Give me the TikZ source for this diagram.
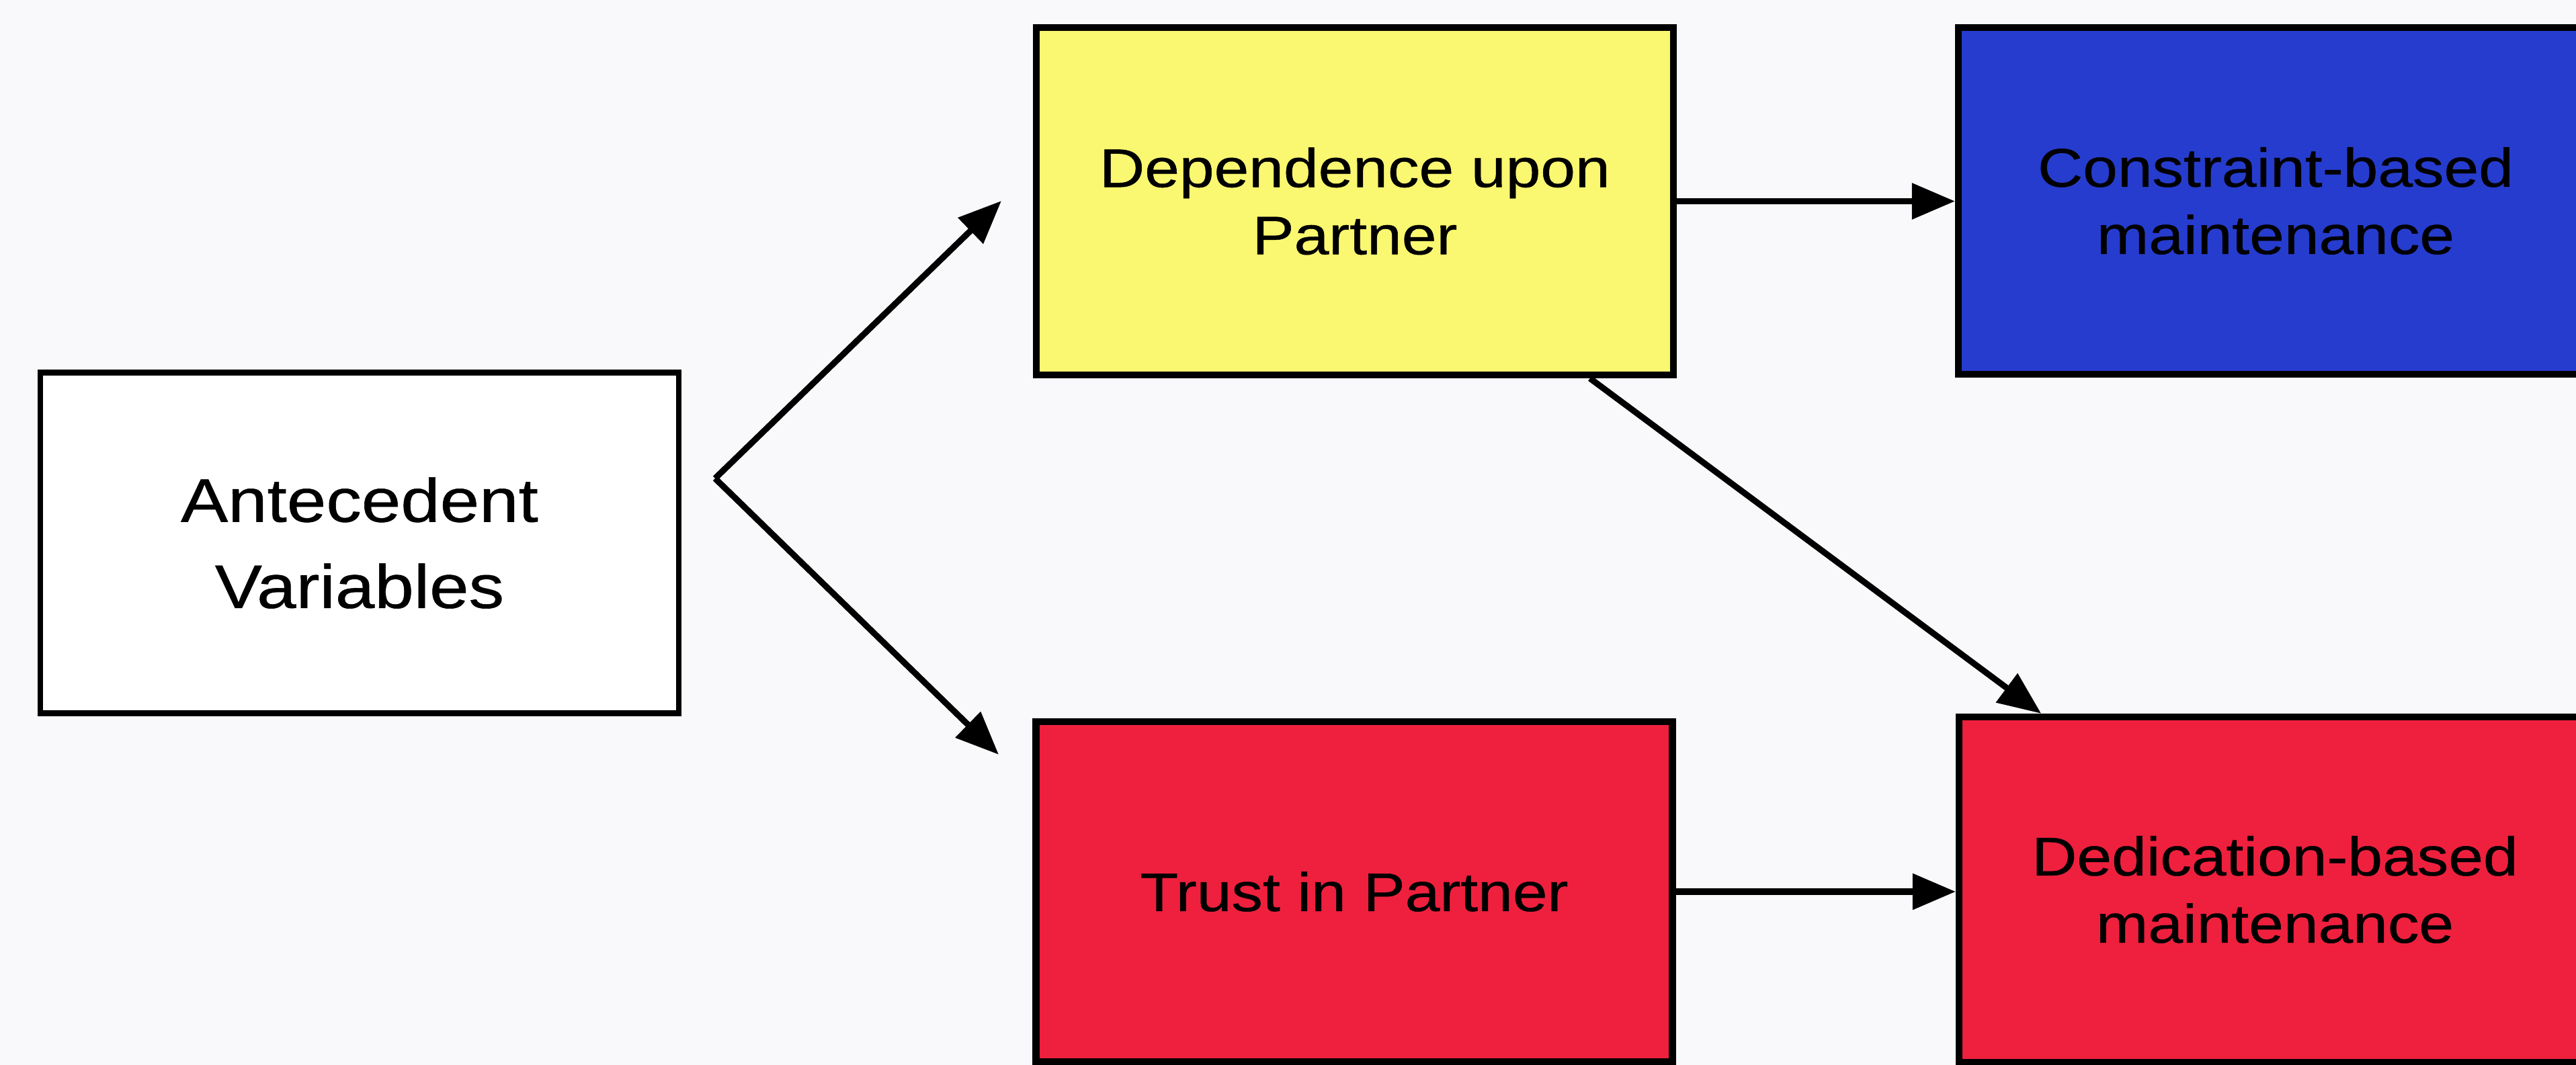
\documentclass[tikz,border=0pt]{standalone}
\usepackage{fontspec}
\setmainfont{Liberation Sans}[FakeStretch=1.15, FakeBold=0.6]
\usepackage{xcolor}
\usepackage{tikz}
\usetikzlibrary{arrows.meta}

\definecolor{depyellow}{RGB}{250,247,112}
\definecolor{conblue}{RGB}{38,60,206}
\definecolor{dedred}{RGB}{238,32,62}
\definecolor{paper}{RGB}{249,249,251}

\begin{document}
\begin{tikzpicture}[
    box/.style={draw=black, line width=2.9pt, inner sep=0pt, align=center,
        font=\fontsize{23}{28.5}\selectfont},
    link/.style={-{Triangle[length=0.64cm, width=0.52cm]}, line width=2.6pt}
  ]
    % Page
    \useasboundingbox (0,0) rectangle (38.33,15.85);
    \fill[paper] (0,0) rectangle (38.33,15.85);

    % Antecedents
    \node[box, line width=2.5pt, fill=white, minimum width=9.5cm, minimum height=5.07cm,
        font=\fontsize{26}{36.5}\selectfont] (ante) at (5.35,7.77) {Antecedent\\Variables};

    % Middle column
    \node[box, fill=depyellow, minimum width=9.48cm, minimum height=5.17cm] (dep) at (20.16,12.855) {Dependence upon\\Partner};
    \node[box, fill=dedred, minimum width=9.47cm, minimum height=5.06cm] (trust) at (20.15,2.58) {Trust in Partner};

    % Right column
    \node[box, fill=conblue, minimum width=9.44cm, minimum height=5.16cm] (con) at (33.86,12.86) {Constraint-based\\maintenance};
    \node[box, fill=dedred, minimum width=9.4cm, minimum height=5.14cm] (ded) at (33.85,2.61) {Dedication-based\\maintenance};

    % Fork from the antecedents
    \coordinate (fork) at (10.64,8.73);
    \coordinate (upTip) at (14.90,12.86);
    \coordinate (downTip) at (14.86,4.62);
    \draw[link] (fork) -- (upTip);
    \draw[link] (fork) -- (downTip);

    % Links to maintenance
    \draw[link] (dep.east) -- (dep.east -| con.west);
    \draw[link] (dep.-37.1) -- (ded.143.7);
    \draw[link] (trust.east) -- (trust.east -| ded.west);

\end{tikzpicture}
\end{document}
